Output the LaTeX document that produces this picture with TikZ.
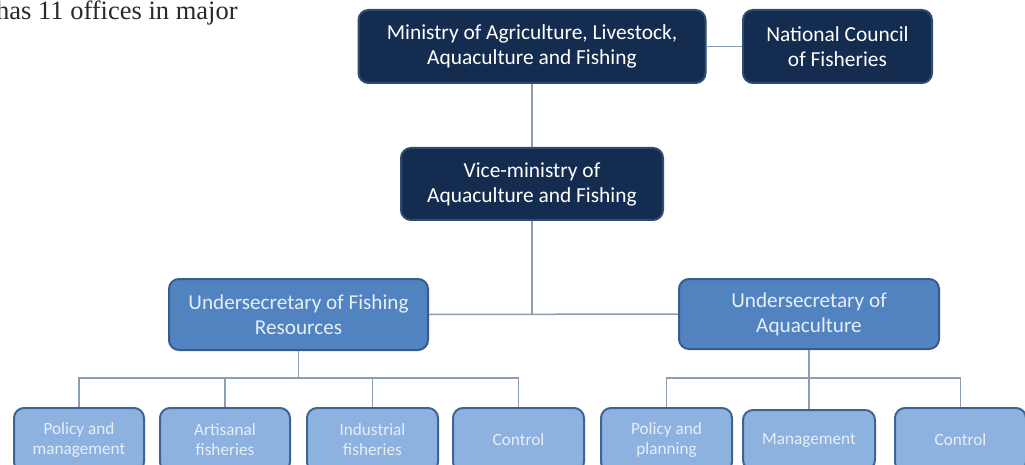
\documentclass[tikz,border=0pt]{standalone}
\usepackage{fontspec}
\newfontfamily\calfont{Carlito}
\newfontfamily\bodyfont{Liberation Serif}
\definecolor{darkbox}{HTML}{142C50}
\definecolor{darkborder}{HTML}{2E4B70}
\definecolor{midbox}{HTML}{5083C0}
\definecolor{midborder}{HTML}{375C8C}
\definecolor{lightbox}{HTML}{8DB2E0}
\definecolor{lightborder}{HTML}{3E6494}
\definecolor{linecol}{HTML}{8C9DB4}
\definecolor{lighttext}{HTML}{E6EEF8}
\definecolor{bodytext}{HTML}{2A2A2A}
\begin{document}
\begin{tikzpicture}[x=1pt,y=-1pt,
  boxbase/.style={rectangle,rounded corners=10pt,line width=2pt,align=center,inner sep=0pt,font=\calfont},
  darkstyle/.style={boxbase,fill=darkbox,draw=darkborder,text=white,font=\calfont\fontsize{21.4}{25}\selectfont},
  midstyle/.style={boxbase,fill=midbox,draw=midborder,text=lighttext,font=\calfont\fontsize{21.2}{25}\selectfont},
  leafstyle/.style={boxbase,fill=lightbox,draw=lightborder,text=lighttext,font=\calfont\fontsize{17.2}{20}\selectfont,minimum height=64pt},
  conn/.style={draw=linecol,line width=1.5pt}]
\useasboundingbox (0,0) rectangle (1025,465);
\clip (0,0) rectangle (1025,465);
\fill[white] (0,0) rectangle (1025,465);

\node[anchor=base west,text=bodytext,font=\bodyfont\fontsize{26.5}{30}\selectfont,inner sep=0pt] (body) at (-4,20) {has 11 offices in major};

\node[darkstyle,minimum width=347pt,minimum height=73pt] (min) at (532,46.5) {Ministry of Agriculture, Livestock,\\Aquaculture and Fishing};
\node[darkstyle,minimum width=189pt,minimum height=73pt] (ncf) at (837.5,46.5) {National Council\\of Fisheries};
\node[darkstyle,minimum width=262pt,minimum height=72pt] (vice) at (532,184) {Vice-ministry of\\Aquaculture and Fishing};
\node[midstyle,minimum width=259pt,minimum height=71pt] (usf) at (298.5,314.5) {Undersecretary of Fishing\\Resources};
\node[midstyle,minimum width=260pt,minimum height=70pt] (usa) at (809,314) {Undersecretary of\\Aquaculture};

\node[leafstyle,minimum width=130pt] (l1) at (79,440) {Policy and\\management};
\node[leafstyle,minimum width=130pt] (l2) at (225,440) {Artisanal\\fisheries};
\node[leafstyle,minimum width=131pt] (l3) at (372.5,440) {Industrial\\fisheries};
\node[leafstyle,minimum width=131pt] (l4) at (518.5,440) {Control};
\node[leafstyle,minimum width=131pt] (r1) at (666.5,440) {Policy and\\planning};
\node[leafstyle,minimum width=132pt,minimum height=60pt] (r2) at (809,440) {Management};
\node[leafstyle,minimum width=131pt] (r3) at (960.5,440) {Control};

\coordinate (busL) at (298.5,378);
\coordinate (busR) at (809,378);

\draw[conn] (min.east) -- (ncf.west);
\draw[conn] (min.south) -- (vice.north);
\draw[conn] (usf.east) -- (usa.west);
\draw[conn] (vice.south) -- (vice.south |- usf.east);
\draw[conn] (usf.south) -- (busL);
\draw[conn] (l1.north) -- (l1.north |- busL) -- (l4.north |- busL) -- (l4.north);
\draw[conn] (l2.north) -- (l2.north |- busL);
\draw[conn] (l3.north) -- (l3.north |- busL);
\draw[conn] (usa.south) -- (busR) -- (r2.north);
\draw[conn] (r1.north) -- (r1.north |- busR) -- (r3.north |- busR) -- (r3.north);
\end{tikzpicture}
\end{document}
